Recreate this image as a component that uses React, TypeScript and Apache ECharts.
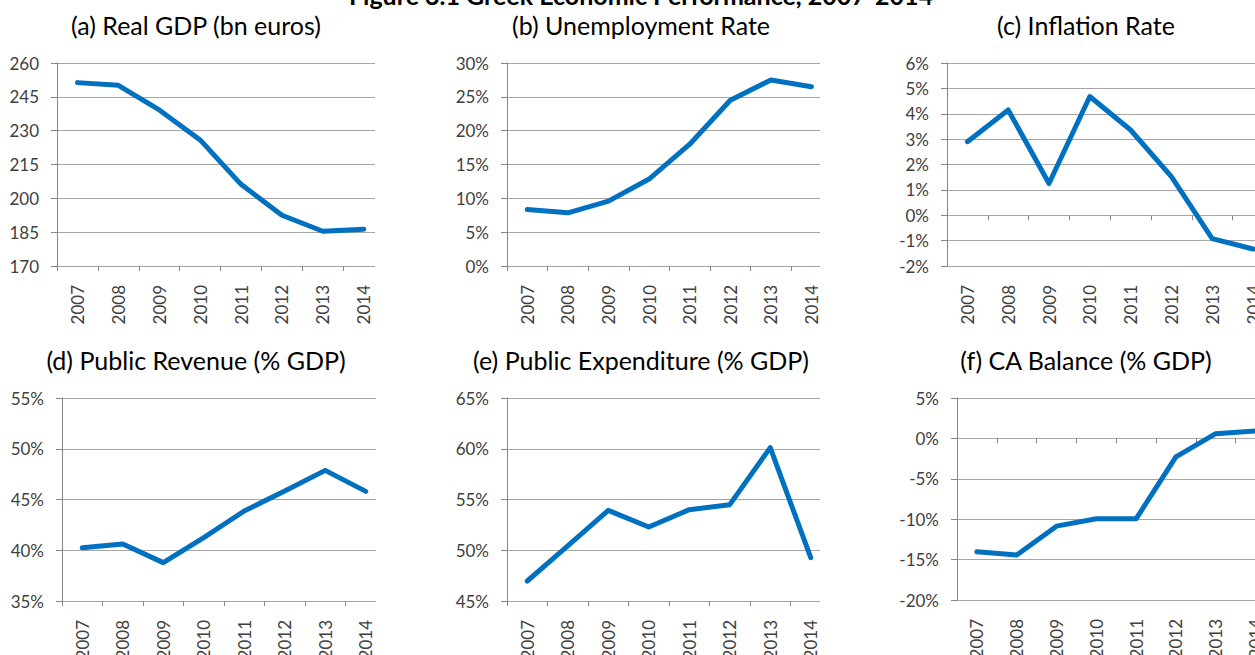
import React, { useEffect, useRef } from "react";
import * as echarts from "echarts";

// ---- data ----
const years = ["2007", "2008", "2009", "2010", "2011", "2012", "2013", "2014"];
const realGdp = [251.3, 250.1, 239.2, 225.9, 206.2, 192.5, 185.4, 186.3];
const unemployment = [8.35, 7.86, 9.59, 12.85, 18.0, 24.5, 27.5, 26.5];
const inflation = [2.9, 4.15, 1.25, 4.68, 3.36, 1.52, -0.92, -1.33];
const publicRevenue = [40.25, 40.62, 38.78, 41.24, 43.87, 45.84, 47.87, 45.8];
const publicExpenditure = [46.97, 50.44, 53.93, 52.29, 54.0, 54.49, 60.11, 49.27];
const caBalance = [-14.03, -14.44, -10.86, -9.95, -9.95, -2.29, 0.59, 0.92];

const panelTitles = [
  "(a) Real GDP (bn euros)",
  "(b) Unemployment Rate",
  "(c) Inflation Rate",
  "(d) Public Revenue (% GDP)",
  "(e) Public Expenditure (% GDP)",
  "(f) CA Balance (% GDP)",
];
const panelData = [realGdp, unemployment, inflation, publicRevenue, publicExpenditure, caBalance];
const yMins = [170, 0, -2, 35, 45, -20];
const yMaxs = [260, 30, 6, 55, 65, 5];
const yIntervals = [15, 5, 1, 5, 5, 5];
const ySuffixes = ["", "%", "%", "%", "%", "%"];
const figureTitle = "Figure 3.1 Greek Economic Performance, 2007-2014";

// ---- layout (positions / styles) ----
const layout = [
  { left: 57, top: 63, height: 203, gridW: 318, band: 40.9, tx: 196, ty: 25 },
  { left: 507, top: 63, height: 203, gridW: 313, band: 40.6, tx: 641, ty: 25 },
  { left: 947, top: 63, height: 203, gridW: 340, band: 40.8, tx: 1086, ty: 25 },
  { left: 62, top: 398, height: 203, gridW: 314, band: 40.5, tx: 196, ty: 360 },
  { left: 507, top: 398, height: 203, gridW: 313, band: 40.5, tx: 641, ty: 360 },
  { left: 957, top: 398, height: 202, gridW: 340, band: 39.8, tx: 1086, ty: 360 },
];

const FONT = "Lato, 'Open Sans', sans-serif";
const LINE_COLOR = "#0070c0";
const GRID_COLOR = "#a6a6a6";
const AXIS_COLOR = "#868686";
const LABEL_COLOR = "#404040";

function buildOption() {
  const grid: any[] = [];
  const xAxis: any[] = [];
  const yAxis: any[] = [];
  const series: any[] = [];
  const graphic: any[] = [];

  graphic.push({
    type: "text",
    x: 641,
    y: -5,
    style: {
      text: figureTitle,
      font: `bold 25px ${FONT}`,
      fill: "#000",
      align: "center",
      textAlign: "center",
      verticalAlign: "middle",
      textVerticalAlign: "middle",
    },
  });

  layout.forEach((L, p) => {
    const g = p * 3;
    const min = yMins[p];
    const max = yMaxs[p];
    const suffix = ySuffixes[p];

    graphic.push({
      type: "text",
      x: L.tx,
      y: L.ty,
      style: {
        text: panelTitles[p],
        font: `25px ${FONT}`,
        fill: "#000",
        align: "center",
        textAlign: "center",
        verticalAlign: "middle",
        textVerticalAlign: "middle",
      },
    });

    const gridBase = { top: L.top, height: L.height, left: L.left, containLabel: false, outerBoundsMode: "none" };
    // grid A: gridlines + y axis
    grid.push({ ...gridBase, width: L.gridW });
    // grid B: category axis + series
    grid.push({ ...gridBase, width: L.band * 8 });
    // grid C: tick marks on the crossing line
    grid.push({ ...gridBase, width: L.band * 7 });

    xAxis.push({ gridIndex: g, type: "value", min: 0, max: 1, show: false });
    yAxis.push({
      gridIndex: g,
      type: "value",
      min,
      max,
      interval: yIntervals[p],
      axisLine: { show: true, onZero: false, lineStyle: { color: AXIS_COLOR, width: 1 } },
      axisTick: { show: true, length: 6, lineStyle: { color: AXIS_COLOR, width: 1 } },
      axisLabel: {
        formatter: (v: number) => `${v}${suffix}`,
        margin: 18,
        color: LABEL_COLOR,
        fontSize: 17,
        fontFamily: FONT,
      },
      splitLine: { show: true, lineStyle: { color: GRID_COLOR, width: 1 } },
    });

    xAxis.push({
      gridIndex: g + 1,
      type: "category",
      data: years,
      boundaryGap: true,
      axisLine: { show: false, onZero: false },
      axisTick: { show: false },
      splitLine: { show: false },
      axisLabel: {
        rotate: 90,
        margin: 19,
        color: LABEL_COLOR,
        fontSize: 17,
        fontFamily: FONT,
        interval: 0,
      },
    });
    yAxis.push({ gridIndex: g + 1, type: "value", min, max, show: false });

    xAxis.push({
      gridIndex: g + 2,
      type: "value",
      min: 0,
      max: 7,
      interval: 1,
      axisLine: { show: false, onZero: true },
      axisTick: { show: true, length: 5, lineStyle: { color: AXIS_COLOR, width: 1 } },
      axisLabel: { show: false },
      splitLine: { show: false },
    });
    yAxis.push({ gridIndex: g + 2, type: "value", min, max, show: false });

    series.push({
      type: "line",
      xAxisIndex: g + 1,
      yAxisIndex: g + 1,
      data: panelData[p],
      symbol: "none",
      lineStyle: { color: LINE_COLOR, width: 5, cap: "round", join: "round" },
      silent: true,
    });
  });

  return {
    animation: false,
    backgroundColor: "#ffffff",
    textStyle: { fontFamily: FONT },
    grid,
    xAxis,
    yAxis,
    series,
    graphic,
  };
}

export default function App() {
  const ref = useRef<HTMLDivElement>(null);
  useEffect(() => {
    if (!ref.current) return;
    const chart = echarts.init(ref.current, undefined, { renderer: "svg" });
    chart.setOption(buildOption());
    return () => chart.dispose();
  }, []);
  return (
    <div
      ref={ref}
      style={{ position: "absolute", left: 0, top: 0, width: 1255, height: 655, background: "#fff" }}
    />
  );
}
